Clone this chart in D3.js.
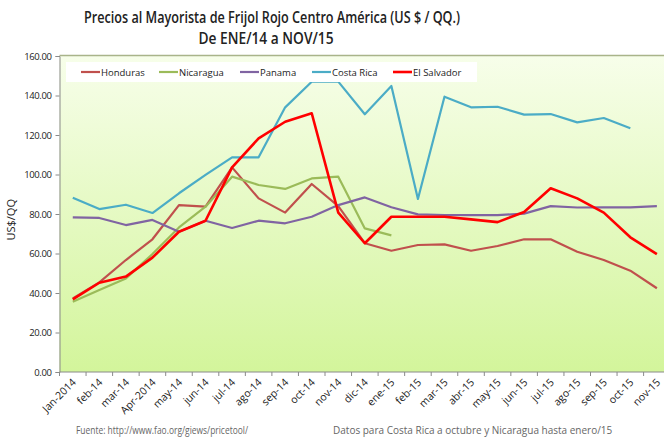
<!DOCTYPE html>
<html>
<head>
<meta charset="utf-8">
<script src="https://cdn.jsdelivr.net/npm/d3@7/dist/d3.min.js"></script>
<style>
  html, body { margin: 0; padding: 0; background: #fff; }
  svg { display: block; }
  text { font-family: "Open Sans", "Noto Sans", sans-serif; }
</style>
</head>
<body>
<svg id="chart" width="664" height="437"></svg>
<script>
// Monthly wholesale red bean prices, US$ per quintal
const months = ["Jan-2014","feb-14","mar-14","Apr-2014","may-14","jun-14","jul-14","ago-14","sep-14","oct-14","nov-14","dic-14",
  "ene-15","feb-15","mar-15","abr-15","may-15","jun-15","jul-15","ago-15","sep-15","oct-15","nov-15"];

const honduras   = [37.3,45.4,56.7,67.2,84.5,83.7,103.6,87.9,80.7,95.2,84.0,65.2,61.4,64.3,64.6,61.4,63.8,67.2,67.2,60.9,56.7,51.3,42.4];
const nicaragua  = [35.6,41.5,47.4,59.7,73.2,83.7,98.9,94.7,92.7,98.0,98.9,72.7,69.2];
const panama     = [78.3,78.0,74.4,77.0,71.0,76.6,72.9,76.6,75.3,78.6,84.5,88.4,83.4,79.8,79.5,79.4,79.4,80.2,84.0,83.3,83.4,83.4,84.0];
const costaRica  = [88.2,82.5,84.7,80.5,90.5,99.8,108.7,108.7,134.0,147.0,147.0,130.5,144.8,87.6,139.4,134.0,134.3,130.3,130.6,126.4,128.6,123.4];
const elSalvador = [36.8,45.2,48.3,57.9,71.0,76.6,103.6,118.3,126.7,131.0,80.7,65.2,78.6,78.6,78.6,77.3,75.9,81.0,93.0,87.9,80.7,68.2,59.7];

const yTicks = [0,20,40,60,80,100,120,140,160];

const series = [
  { name: "Honduras",    values: honduras,   color: "#C0504D", width: 2.2 },
  { name: "Nicaragua",   values: nicaragua,  color: "#9BBB59", width: 2.2 },
  { name: "Panama",      values: panama,     color: "#8064A2", width: 2.2 },
  { name: "Costa Rica",  values: costaRica,  color: "#4BACC6", width: 2.2 },
  { name: "El Salvador", values: elSalvador, color: "#FF0000", width: 2.6 }
];

const svg = d3.select("#chart");

const plotLeft = 59.5, plotTop = 55.5, plotBottom = 372;
const step = 26.55;
const plotRight = plotLeft + step * months.length;

const x = d3.scaleBand().domain(months).range([plotLeft, plotRight]).padding(0);
const y = d3.scaleLinear().domain([0, 160]).range([plotBottom, 56]);

// plot background gradient
const defs = svg.append("defs");
const grad = defs.append("linearGradient").attr("id", "bg").attr("x1", 0).attr("y1", 0).attr("x2", 0).attr("y2", 1);
grad.append("stop").attr("offset", "0%").attr("stop-color", "#f7feea");
grad.append("stop").attr("offset", "100%").attr("stop-color", "#d3f59b");

svg.append("rect")
  .attr("x", plotLeft).attr("y", plotTop)
  .attr("width", plotRight - plotLeft).attr("height", plotBottom - plotTop)
  .attr("fill", "url(#bg)");

// top border of the plot area
svg.append("line")
  .attr("x1", plotLeft).attr("x2", plotRight)
  .attr("y1", plotTop).attr("y2", plotTop)
  .attr("stroke", "#a9b48a").attr("stroke-width", 1.5);

// title
svg.append("text")
  .attr("x", 272).attr("y", 23)
  .attr("text-anchor", "middle")
  .attr("font-size", 15.5).attr("font-weight", 600).attr("fill", "#222")
  .attr("textLength", 376).attr("lengthAdjust", "spacingAndGlyphs")
  .text("Precios al Mayorista de Frijol Rojo Centro América (US $ / QQ.)");
svg.append("text")
  .attr("x", 266).attr("y", 43.5)
  .attr("text-anchor", "middle")
  .attr("font-size", 15.5).attr("font-weight", 600).attr("fill", "#222")
  .attr("textLength", 135).attr("lengthAdjust", "spacingAndGlyphs")
  .text("De ENE/14 a NOV/15");

// y axis
const yAxis = svg.append("g")
  .attr("transform", `translate(${plotLeft},0)`)
  .call(d3.axisLeft(y).tickValues(yTicks).tickFormat(d3.format(".2f")).tickSize(4).tickPadding(4));
yAxis.select(".domain").attr("stroke", "#8a8a8a");
yAxis.selectAll(".tick line").attr("stroke", "#8a8a8a");
yAxis.selectAll(".tick text").attr("font-size", 9.5).attr("fill", "#222")
  .attr("font-family", "'Open Sans', sans-serif").attr("letter-spacing", "-0.4");

svg.append("text")
  .attr("transform", `translate(15,${(plotTop + plotBottom) / 2 + 6}) rotate(-90)`)
  .attr("text-anchor", "middle")
  .attr("font-size", 11).attr("fill", "#222")
  .text("US$/QQ");

// x axis with ticks on category boundaries
const xg = svg.append("g").attr("transform", `translate(0,${plotBottom})`);
xg.append("line").attr("x1", plotLeft).attr("x2", plotRight).attr("stroke", "#8a8a8a");
xg.selectAll(".tk").data(months).enter().append("line")
  .attr("x1", d => x(d) + x.bandwidth()).attr("x2", d => x(d) + x.bandwidth())
  .attr("y1", 0).attr("y2", 4).attr("stroke", "#8a8a8a");
xg.append("line").attr("x1", plotLeft).attr("x2", plotLeft).attr("y1", 0).attr("y2", 4).attr("stroke", "#8a8a8a");
xg.selectAll(".lbl").data(months).enter().append("text")
  .attr("transform", d => `translate(${x(d) + x.bandwidth() / 2 + 4},${11}) rotate(-45)`)
  .attr("text-anchor", "end")
  .attr("font-size", 10.5).attr("fill", "#222")
  .text(d => d);

// series lines
const line = d3.line()
  .x((d, i) => x(months[i]) + x.bandwidth() / 2)
  .y(d => y(d));

svg.append("g").selectAll("path").data(series).enter().append("path")
  .attr("d", s => line(s.values))
  .attr("fill", "none")
  .attr("stroke", s => s.color)
  .attr("stroke-width", s => s.width)
  .attr("stroke-linejoin", "round");

// legend
const legend = svg.append("g");
legend.append("rect")
  .attr("x", 66).attr("y", 62).attr("width", 411).attr("height", 20)
  .attr("fill", "#ffffff");
const legendX = [81, 159, 240, 312, 393];
const items = legend.selectAll(".item").data(series).enter().append("g")
  .attr("transform", (d, i) => `translate(${legendX[i]},72)`);
items.append("line").attr("x1", 0).attr("x2", 19)
  .attr("stroke", d => d.color).attr("stroke-width", d => d.width);
items.append("text").attr("x", 20).attr("y", 3.5)
  .attr("font-size", 9.5).attr("fill", "#222")
  .text(d => d.name);

// footnotes
svg.append("text").attr("x", 76).attr("y", 434)
  .attr("font-size", 10).attr("fill", "#666")
  .attr("textLength", 172).attr("lengthAdjust", "spacingAndGlyphs")
  .text("Fuente: http://www.fao.org/giews/pricetool/");
svg.append("text").attr("x", 333).attr("y", 434)
  .attr("font-size", 10).attr("fill", "#666")
  .text("Datos para Costa Rica a octubre y Nicaragua hasta enero/15");
</script>
</body>
</html>
